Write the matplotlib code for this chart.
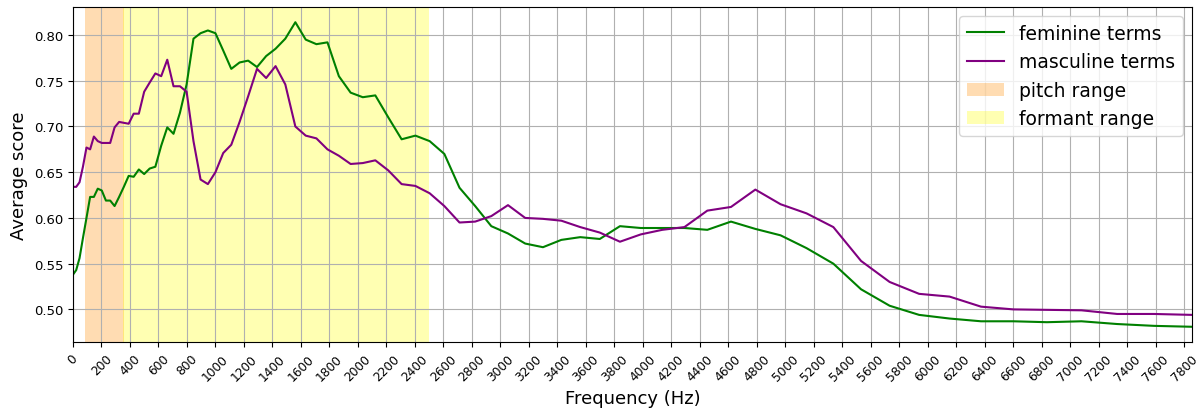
import matplotlib
matplotlib.use("Agg")
import matplotlib.pyplot as plt

# Frequencies of the analysis bins (Hz)
freqs = [0, 22.5, 45.8, 69.8, 94.6, 120.2, 146.6, 173.8, 202.0, 231.0,
         261.0, 291.9, 323.8, 356.8, 390.8, 425.9, 462.2, 499.6, 538.2, 578.1,
         619.2, 661.7, 705.5, 750.8, 797.5, 845.7, 895.5, 946.8, 999.8, 1054.6,
         1111.0, 1169.4, 1229.5, 1291.7, 1355.8, 1421.9, 1490.3, 1560.8, 1633.6, 1708.7,
         1786.2, 1866.3, 1948.9, 2034.2, 2122.2, 2213.0, 2306.8, 2403.6, 2503.5, 2606.7,
         2713.1, 2823.0, 2936.4, 3053.5, 3174.3, 3299.0, 3427.8, 3560.7, 3697.8, 3839.4,
         3985.6, 4136.4, 4292.1, 4452.8, 4618.7, 4789.9, 4966.7, 5149.1, 5337.4, 5531.8,
         5732.4, 5939.5, 6153.2, 6373.8, 6601.6, 6836.6, 7079.3, 7329.7, 7588.2, 7855.0]

feminine = [0.538, 0.543, 0.556, 0.578, 0.600, 0.623, 0.623, 0.632, 0.630, 0.619,
            0.619, 0.613, 0.623, 0.634, 0.646, 0.645, 0.653, 0.648, 0.654, 0.656,
            0.679, 0.699, 0.692, 0.715, 0.746, 0.796, 0.802, 0.805, 0.802, 0.783,
            0.763, 0.770, 0.772, 0.765, 0.777, 0.785, 0.796, 0.814, 0.795, 0.790,
            0.792, 0.755, 0.737, 0.732, 0.734, 0.710, 0.686, 0.690, 0.684, 0.670,
            0.633, 0.613, 0.591, 0.583, 0.572, 0.568, 0.576, 0.579, 0.577, 0.591,
            0.589, 0.589, 0.589, 0.587, 0.596, 0.588, 0.581, 0.567, 0.550, 0.522,
            0.504, 0.494, 0.490, 0.487, 0.487, 0.486, 0.487, 0.484, 0.482, 0.481]

masculine = [0.634, 0.634, 0.639, 0.656, 0.677, 0.675, 0.689, 0.684, 0.682, 0.682,
             0.682, 0.699, 0.705, 0.704, 0.703, 0.714, 0.714, 0.738, 0.748, 0.758,
             0.755, 0.773, 0.744, 0.744, 0.738, 0.684, 0.642, 0.637, 0.650, 0.671,
             0.680, 0.705, 0.733, 0.763, 0.753, 0.766, 0.746, 0.700, 0.690, 0.687,
             0.675, 0.668, 0.659, 0.660, 0.663, 0.652, 0.637, 0.635, 0.627, 0.613,
             0.595, 0.596, 0.602, 0.614, 0.600, 0.599, 0.597, 0.590, 0.584, 0.574,
             0.582, 0.587, 0.590, 0.608, 0.612, 0.631, 0.615, 0.605, 0.590, 0.553,
             0.530, 0.517, 0.514, 0.503, 0.500, 0.4995, 0.499, 0.495, 0.495, 0.494]

pitch_range = (85, 360)
formant_range = (350, 2500)
xticks = list(range(0, 7801, 200))

fig = plt.figure(figsize=(11.98, 4.14), dpi=100)
ax = fig.add_axes([73 / 1198, 1 - 343 / 414, (1192 - 73) / 1198, (343 - 8) / 414])

ax.plot(freqs, feminine, color="green", lw=1.5, label="feminine terms")
ax.plot(freqs, masculine, color="purple", lw=1.5, label="masculine terms")
ax.axvspan(*pitch_range, color="darkorange", alpha=0.3, lw=0, label="pitch range")
ax.axvspan(*formant_range, color="yellow", alpha=0.3, lw=0, label="formant range")

ax.set_xlim(0, freqs[-1])
ax.set_xticks(xticks)
ax.tick_params(axis="x", labelrotation=45, labelsize=8.8)
ax.tick_params(axis="y", labelsize=9.5)
ax.grid(True)
ax.set_xlabel("Frequency (Hz)", fontsize=13)
ax.set_ylabel("Average score", fontsize=13)
ax.legend(loc="upper right", fontsize=13.5)

fig.savefig("out.png", dpi=100)
